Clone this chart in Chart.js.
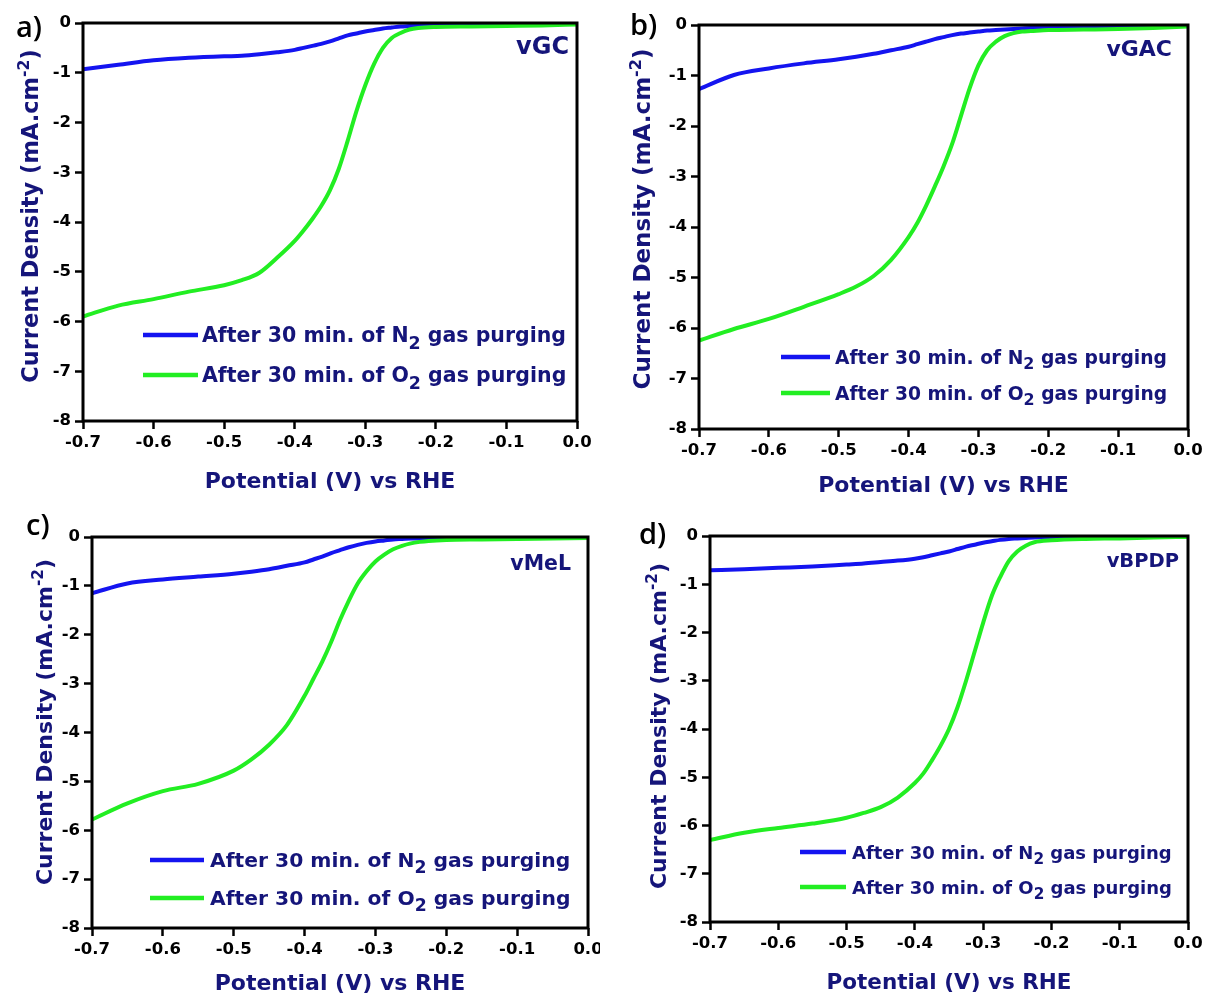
<!DOCTYPE html>
<html>
<head>
<meta charset="utf-8">
<title>LSV curves</title>
<script src="https://cdn.jsdelivr.net/npm/chart.js@4.4.1/dist/chart.umd.min.js"></script>
<style>
  html, body { margin: 0; padding: 0; background: #fff; }
  body { width: 1207px; height: 997px; position: relative; overflow: hidden; }
  .panel { position: absolute; }
  .panel canvas { display: block; }
  .tag { position: absolute; font: 600 29px/29px "Open Sans", sans-serif; color: #000; }
</style>
</head>
<body>
<div class="panel" style="left:0;top:0"><canvas id="chart-a" width="600" height="500"></canvas></div>
<div class="panel" style="left:600px;top:0"><canvas id="chart-b" width="607" height="500"></canvas></div>
<div class="panel" style="left:0;top:500px"><canvas id="chart-c" width="600" height="497"></canvas></div>
<div class="panel" style="left:600px;top:500px"><canvas id="chart-d" width="607" height="497"></canvas></div>
<div class="tag" style="left:16px;top:11px">a)</div>
<div class="tag" style="left:630px;top:9px">b)</div>
<div class="tag" style="left:26px;top:509px">c)</div>
<div class="tag" style="left:639px;top:518px">d)</div>

<script>
// potential grid (V vs RHE), shared by every curve
const POTENTIAL = [-0.7, -0.65, -0.6, -0.55, -0.5, -0.475, -0.45, -0.425, -0.4, -0.3875, -0.375, -0.3625,
  -0.35, -0.3375, -0.325, -0.3125, -0.3, -0.2875, -0.275, -0.2625, -0.25, -0.2375, -0.225, -0.2,
  -0.15, -0.1, -0.05, 0];

const X_TICKS = [-0.7, -0.6, -0.5, -0.4, -0.3, -0.2, -0.1, 0];
const Y_TICKS = [-8, -7, -6, -5, -4, -3, -2, -1, 0];

// current density (mA cm-2)
const VGC_N2 = [-0.93, -0.84, -0.75, -0.70, -0.67, -0.66, -0.63, -0.59, -0.54, -0.50, -0.46, -0.42,
  -0.37, -0.31, -0.25, -0.21, -0.17, -0.14, -0.11, -0.09, -0.07, -0.06, -0.05, -0.04, -0.03, -0.02, -0.01, -0.01];
const VGC_O2 = [-5.9, -5.68, -5.55, -5.40, -5.27, -5.17, -5.02, -4.72, -4.38, -4.17, -3.94, -3.68,
  -3.36, -2.93, -2.37, -1.77, -1.25, -0.82, -0.5, -0.3, -0.2, -0.13, -0.1, -0.08, -0.07, -0.06, -0.05, -0.03];

const VGAC_N2 = [-1.27, -0.99, -0.86, -0.76, -0.68, -0.63, -0.57, -0.50, -0.43, -0.38, -0.33, -0.28,
  -0.24, -0.20, -0.17, -0.15, -0.13, -0.11, -0.10, -0.09, -0.08, -0.07, -0.06, -0.05, -0.04, -0.03, -0.02, -0.01];
const VGAC_O2 = [-6.25, -6.02, -5.82, -5.58, -5.33, -5.18, -4.97, -4.65, -4.2, -3.92, -3.58, -3.2,
  -2.8, -2.35, -1.8, -1.25, -0.8, -0.5, -0.33, -0.22, -0.16, -0.13, -0.12, -0.1, -0.09, -0.08, -0.06, -0.03];

const VMEL_N2 = [-1.15, -0.95, -0.87, -0.81, -0.75, -0.71, -0.66, -0.59, -0.52, -0.46, -0.40, -0.33,
  -0.27, -0.21, -0.16, -0.12, -0.09, -0.07, -0.05, -0.04, -0.03, -0.03, -0.02, -0.02, -0.01, -0.01, -0.01, 0];
const VMEL_O2 = [-5.78, -5.45, -5.2, -5.05, -4.78, -4.55, -4.25, -3.85, -3.25, -2.9, -2.55, -2.15,
  -1.7, -1.3, -0.95, -0.7, -0.5, -0.36, -0.25, -0.18, -0.13, -0.1, -0.08, -0.06, -0.05, -0.04, -0.03, -0.02];

const VBPDP_N2 = [-0.71, -0.69, -0.66, -0.63, -0.59, -0.57, -0.54, -0.51, -0.47, -0.44, -0.40, -0.36,
  -0.32, -0.27, -0.22, -0.18, -0.14, -0.11, -0.08, -0.06, -0.05, -0.04, -0.03, -0.02, -0.01, -0.01, 0, 0];
const VBPDP_O2 = [-6.30, -6.15, -6.05, -5.96, -5.84, -5.74, -5.62, -5.42, -5.12, -4.92, -4.65, -4.35,
  -4.0, -3.55, -3.0, -2.4, -1.8, -1.25, -0.85, -0.52, -0.32, -0.2, -0.13, -0.09, -0.06, -0.05, -0.03, -0.02];

const SERIES_LABELS = ["After 30 min. of N_{2} gas purging", "After 30 min. of O_{2} gas purging"];
const X_TITLE = "Potential (V) vs RHE";
const Y_TITLE = "Current Density (mA.cm^{-2})";

const BLUE = "#1414f0";
const GREEN = "#22ee22";
const NAVY = "#15157a";
const FONT = "DejaVu Sans";

// panel geometry, all in canvas pixels
const PANELS = [
  { id: "chart-a", name: "vGC", n2: VGC_N2, o2: VGC_O2,
    area: { left: 83, top: 23, right: 577, bottom: 421 },
    xTitle: { y: 480, size: 22 }, yTitle: { x: 30, y: 216, size: 22.5 },
    legend: { x1: 143, x2: 198, text: 202, rows: [335, 375], size: 20.5 },
    sample: { right: 569, y: 45, size: 24 } },
  { id: "chart-b", name: "vGAC", n2: VGAC_N2, o2: VGAC_O2,
    area: { left: 99, top: 25, right: 588, bottom: 429 },
    xTitle: { y: 484, size: 22 }, yTitle: { x: 42, y: 219, size: 23 },
    legend: { x1: 181, x2: 230, text: 235, rows: [357, 393], size: 18.7 },
    sample: { right: 572, y: 48, size: 22 } },
  { id: "chart-c", name: "vMeL", n2: VMEL_N2, o2: VMEL_O2,
    area: { left: 92, top: 37, right: 588, bottom: 428 },
    xTitle: { y: 482, size: 22 }, yTitle: { x: 44, y: 222, size: 22 },
    legend: { x1: 150, x2: 204, text: 210, rows: [360, 398], size: 20.3 },
    sample: { right: 571, y: 63, size: 20.5 } },
  { id: "chart-d", name: "vBPDP", n2: VBPDP_N2, o2: VBPDP_O2,
    area: { left: 110, top: 36, right: 588, bottom: 422 },
    xTitle: { y: 481, size: 21.5 }, yTitle: { x: 58, y: 226, size: 22 },
    legend: { x1: 200, x2: 246, text: 252, rows: [352, 387], size: 18 },
    sample: { right: 579, y: 60, size: 19.5 } }
];

// split "N_{2}" / "cm^{-2}" style markup into runs
function parseRich(text) {
  return text.split(/(_\{[^}]*\}|\^\{[^}]*\})/).filter(Boolean).map((part) => {
    if (part.startsWith("_{")) return { t: part.slice(2, -1), kind: "sub" };
    if (part.startsWith("^{")) return { t: part.slice(2, -1), kind: "sup" };
    return { t: part, kind: "" };
  });
}

function runFont(kind, size) {
  const s = kind === "sup" ? size * 0.7 : kind === "sub" ? size * 0.85 : size;
  return `bold ${s}px "${FONT}"`;
}

function measureRich(ctx, runs, size) {
  return runs.reduce((w, r) => {
    ctx.font = runFont(r.kind, size);
    return w + ctx.measureText(r.t).width;
  }, 0);
}

// draws with the cap-height centred on y
function drawRich(ctx, text, x, y, size, align, color) {
  const runs = parseRich(text);
  const total = measureRich(ctx, runs, size);
  let cx = align === "center" ? x - total / 2 : align === "right" ? x - total : x;
  const base = y + size * 0.365;
  ctx.save();
  ctx.fillStyle = color;
  ctx.textAlign = "left";
  ctx.textBaseline = "alphabetic";
  for (const r of runs) {
    ctx.font = runFont(r.kind, size);
    const dy = r.kind === "sub" ? size * 0.3 : r.kind === "sup" ? -size * 0.42 : 0;
    ctx.fillText(r.t, cx, base + dy);
    cx += ctx.measureText(r.t).width;
  }
  ctx.restore();
}

const decorPlugin = {
  id: "decor",
  afterDatasetsDraw(chart, args, opts) {
    const { ctx, chartArea: a } = chart;
    const p = opts.panel;

    ctx.save();
    ctx.strokeStyle = "#000";
    ctx.lineWidth = 3;
    ctx.strokeRect(a.left, a.top, a.right - a.left, a.bottom - a.top);
    ctx.restore();

    drawRich(ctx, X_TITLE, (a.left + a.right) / 2, p.xTitle.y, p.xTitle.size, "center", NAVY);

    ctx.save();
    ctx.translate(p.yTitle.x, p.yTitle.y);
    ctx.rotate(-Math.PI / 2);
    drawRich(ctx, Y_TITLE, 0, 0, p.yTitle.size, "center", NAVY);
    ctx.restore();

    chart.data.datasets.forEach((ds, i) => {
      const y = p.legend.rows[i];
      ctx.save();
      ctx.strokeStyle = ds.borderColor;
      ctx.lineWidth = 4.5;
      ctx.beginPath();
      ctx.moveTo(p.legend.x1, y);
      ctx.lineTo(p.legend.x2, y);
      ctx.stroke();
      ctx.restore();
      drawRich(ctx, SERIES_LABELS[i], p.legend.text, y, p.legend.size, "left", NAVY);
    });

    drawRich(ctx, p.name, p.sample.right, p.sample.y, p.sample.size, "right", NAVY);
  }
};

function toPoints(values) {
  return POTENTIAL.map((x, i) => ({ x, y: values[i] }));
}

function buildChart(p) {
  const canvas = document.getElementById(p.id);
  const W = canvas.width;
  const H = canvas.height;
  const tickFont = { family: FONT, weight: "bold", size: 16.5 };
  const grid = { drawOnChartArea: false, drawTicks: true, tickLength: 8, tickWidth: 2.5, tickColor: "#000" };

  return new Chart(canvas, {
    type: "line",
    data: {
      datasets: [
        { data: toPoints(p.n2), borderColor: BLUE, order: 1 },
        { data: toPoints(p.o2), borderColor: GREEN, order: 0 }
      ]
    },
    options: {
      responsive: false,
      animation: false,
      events: [],
      elements: {
        point: { radius: 0 },
        line: { borderWidth: 4, cubicInterpolationMode: "monotone", fill: false }
      },
      layout: { padding: { top: p.area.top, right: W - p.area.right, left: 0, bottom: 0 } },
      plugins: { legend: { display: false }, tooltip: { enabled: false }, decor: { panel: p } },
      scales: {
        x: {
          type: "linear",
          min: -0.7,
          max: 0,
          grid,
          border: { display: false },
          ticks: { font: tickFont, color: "#000", padding: 4, callback: (v) => v.toFixed(1) },
          afterBuildTicks: (scale) => { scale.ticks = X_TICKS.map((value) => ({ value })); },
          afterFit: (scale) => {
            scale.height = H - p.area.bottom;
            scale.paddingLeft = 0;
            scale.paddingRight = 0;
          }
        },
        y: {
          type: "linear",
          min: -8,
          max: 0,
          grid,
          border: { display: false },
          ticks: { font: tickFont, color: "#000", padding: 4, callback: (v) => String(v) },
          afterBuildTicks: (scale) => { scale.ticks = Y_TICKS.map((value) => ({ value })); },
          afterFit: (scale) => {
            scale.width = p.area.left;
            scale.paddingTop = 0;
            scale.paddingBottom = 0;
          }
        }
      }
    },
    plugins: [decorPlugin]
  });
}

PANELS.forEach(buildChart);
</script>
</body>
</html>
